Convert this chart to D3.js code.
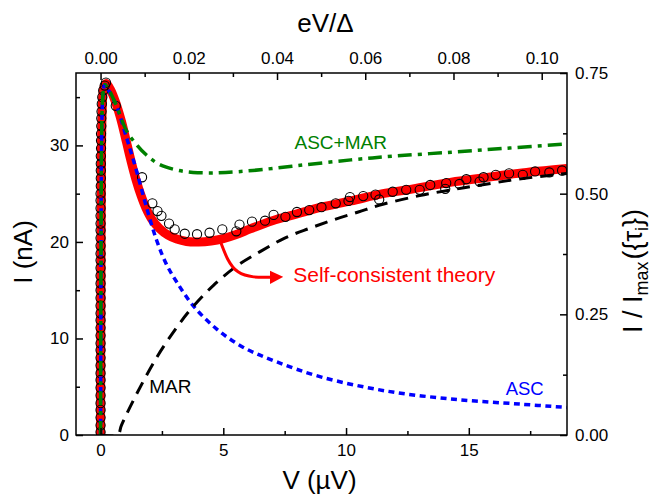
<!DOCTYPE html>
<html lang="en">
<head>
<meta charset="utf-8">
<title>I-V curve</title>
<script src="https://cdn.jsdelivr.net/npm/d3@7"></script>
<style>
	body { margin: 0; background: #fff; }
	text { font-family: "Liberation Sans", Arial, sans-serif; }
	.axis path, .axis line { stroke: #000; stroke-width: 1.5; }
</style>
</head>
<body>
<script>
// ---- data (V in uV, I in nA) ----
var DELTA = 179.7; // uV, gives the eV/Delta top axis

// self-consistent theory (red)
var scV = [0, 0.02, 0.04, 0.07, 0.12, 0.22, 0.4, 0.65, 0.85, 1.06, 1.25, 1.45, 1.65, 1.85, 2.1, 2.4, 2.75, 3.1, 3.5, 4.0, 4.5, 5.0, 5.5, 6.1, 7.0, 8.0, 9.0, 10.2, 11.5, 12.5, 14.3, 15.5, 17.0, 19.0];
var scI = [0, 20, 30, 34, 35.8, 36.4, 35.8, 34.2, 32.5, 30.3, 28.3, 26.4, 24.8, 23.5, 22.3, 21.4, 20.7, 20.3, 20.05, 20.0, 20.1, 20.35, 20.75, 21.35, 22.2, 22.9, 23.6, 24.25, 25.0, 25.4, 26.2, 26.6, 27.1, 27.6];

// ASC (blue dotted)
var ascV = [0, 0.02, 0.04, 0.07, 0.12, 0.18, 0.35, 0.65, 1.06, 1.46, 1.87, 2.28, 2.68, 3.09, 3.77, 4.72, 5.8, 7.15, 9.0, 11.65, 14.4, 17.1, 19.0];
var ascI = [0, 20, 30, 34, 35.8, 36.3, 35.6, 34.1, 30.8, 27.4, 23.6, 20.2, 17.7, 15.9, 13.4, 11.0, 9.1, 7.6, 6.0, 4.55, 3.7, 3.2, 2.85];

// ASC+MAR (green dash-dot)
var sumV = [0, 0.02, 0.04, 0.07, 0.12, 0.18, 0.35, 0.65, 1.06, 1.46, 1.87, 2.28, 2.68, 3.2, 3.77, 4.4, 5.1, 6.2, 8, 10.2, 12, 14.3, 16.5, 19.0];
var sumI = [0, 20, 30, 34, 35.8, 36.3, 35.7, 34.1, 31.5, 30.1, 29.0, 28.2, 27.75, 27.4, 27.2, 27.15, 27.2, 27.4, 27.9, 28.5, 28.9, 29.3, 29.7, 30.15];

// MAR (black dashed)
var marV = [0, 0.7, 0.85, 1.46, 2.28, 3.09, 3.7, 4.6, 5.6, 6.5, 7.5, 8.5, 9.5, 10.5, 11.5, 13, 14.3, 15.5, 17.0, 19.0];
var marI = [0, 0, 1.0, 4.2, 8.0, 11.1, 13.1, 15.5, 17.6, 19.0, 20.4, 21.4, 22.3, 23.1, 23.9, 24.8, 25.4, 25.9, 26.5, 27.1];

// measured points (open circles)
var expV = [0, 0, 0, 0, 0, 0, 0, 0, 0, 0, 0, 0, 0, 0, 0, 0, 0, 0, 0, 0, 0, 0, 0, 0, 0, 0, 0, 0, 0, 0, 0, 0, 0, 0.01, 0.01, 0.01, 0.01, 0.01, 0.02, 0.02, 0.02, 0.03, 0.03, 0.04, 0.05, 0.07, 0.11, 0.17, 0.22,
	0.62, 1.69, 2.11, 2.32, 2.48, 2.79, 3.02, 3.43, 3.93, 4.44, 4.96, 5.53, 5.66, 6.17, 6.7, 7.05, 7.53, 8.0, 8.5, 9.0, 9.58, 10.1, 10.16, 10.7, 11.2, 11.35, 11.9, 12.45, 13.0, 13.43, 14.04, 14.08, 14.62, 14.9, 15.44, 15.6, 16.1, 16.64, 17.2, 17.7, 18.28, 18.8];
var expI = [0.3, 1.0, 1.8, 2.6, 3.3, 4.1, 4.9, 5.7, 6.4, 7.2, 8.0, 8.8, 9.5, 10.3, 11.1, 11.9, 12.6, 13.4, 14.2, 15.0, 15.7, 16.5, 17.3, 18.1, 18.8, 19.6, 20.4, 21.2, 21.9, 22.7, 23.5, 24.3, 25.0, 25.8, 26.6, 27.4, 28.1, 28.9, 29.7, 30.5, 31.2, 32.0, 32.8, 33.5, 34.3, 35.0, 35.7, 36.2, 36.5,
	34.1, 26.7, 24.0, 23.2, 22.7, 21.9, 21.3, 20.85, 20.8, 20.95, 21.3, 21.1, 21.8, 22.1, 22.2, 22.8, 22.6, 23.1, 23.3, 23.6, 24.0, 24.25, 24.65, 24.75, 24.9, 24.4, 25.2, 25.4, 25.4, 25.9, 25.5, 26.1, 26.0, 26.5, 26.25, 26.7, 26.95, 27.1, 26.95, 27.3, 27.2, 27.4];

// axis ticks
var vTicks = [0, 5, 10, 15];
var vMinor = [2.5, 7.5, 12.5, 17.5];
var iTicks = [0, 10, 20, 30];
var iMinor = [5, 15, 25, 35];
var eTicks = [0, 0.02, 0.04, 0.06, 0.08, 0.10];
var eMinor = [0.01, 0.03, 0.05, 0.07, 0.09];
var rTicks = [0, 0.25, 0.5, 0.75];
var rMinor = [0.125, 0.375, 0.625];

// arrow pointing at the red curve
var arrowV = [4.88, 5.6, 7.0];
var arrowI = [20.06, 16.9, 16.35];

function zip(a, b) { return a.map(function(d, i) { return [d, b[i]]; }); }

var w = 652, h = 497;
var pL = 76, pR = 567, pT = 73, pB = 435;

var x = d3.scaleLinear().domain([-1, 19]).range([pL, pR]);
var y = d3.scaleLinear().domain([0, 37.5]).range([pB, pT]);
var xTop = d3.scaleLinear().domain([-1 / DELTA, 19 / DELTA]).range([pL, pR]);
var yRight = d3.scaleLinear().domain([0, 0.75]).range([pB, pT]);

var svg = d3.select("body").append("svg")
	.attr("width", w)
	.attr("height", h);

svg.append("clipPath").attr("id", "plot")
	.append("rect")
	.attr("x", pL).attr("y", pT)
	.attr("width", pR - pL).attr("height", pB - pT);

var line = d3.line()
	.x(function(d) { return x(d[0]); })
	.y(function(d) { return y(d[1]); })
	.curve(d3.curveCatmullRom.alpha(0.5));

var g = svg.append("g").attr("clip-path", "url(#plot)");

// red theory
g.append("path")
	.datum(zip(scV, scI))
	.attr("d", line)
	.attr("fill", "none")
	.attr("stroke", "#ff0000")
	.attr("stroke-width", 9);

// circles
g.selectAll("circle")
	.data(zip(expV, expI))
	.enter()
	.append("circle")
	.attr("cx", function(d) { return x(d[0]); })
	.attr("cy", function(d) { return y(d[1]); })
	.attr("r", 4.6)
	.attr("fill", "none")
	.attr("stroke", "#000")
	.attr("stroke-width", 1.1);

// ASC
g.append("path")
	.datum(zip(ascV, ascI))
	.attr("d", line)
	.attr("fill", "none")
	.attr("stroke", "#0000ff")
	.attr("stroke-width", 3.5)
	.attr("stroke-dasharray", "6,4.5");

// ASC+MAR
g.append("path")
	.datum(zip(sumV, sumI))
	.attr("d", line)
	.attr("fill", "none")
	.attr("stroke", "#008000")
	.attr("stroke-width", 3.5)
	.attr("stroke-dasharray", "14,6,4,6");

// MAR
g.append("path")
	.datum(zip(marV, marI))
	.attr("d", line)
	.attr("fill", "none")
	.attr("stroke", "#000")
	.attr("stroke-width", 3)
	.attr("stroke-dasharray", "13,8");

// arrow
svg.append("defs").append("marker")
	.attr("id", "head")
	.attr("viewBox", "0 0 10 10")
	.attr("refX", 2).attr("refY", 5)
	.attr("markerWidth", 4.5).attr("markerHeight", 4.5)
	.attr("orient", "auto")
	.append("path")
	.attr("d", "M0,0 L10,5 L0,10 z")
	.attr("fill", "#ff0000");

svg.append("path")
	.datum(zip(arrowV, arrowI))
	.attr("d", d3.line()
		.x(function(d) { return x(d[0]); })
		.y(function(d) { return y(d[1]); })
		.curve(d3.curveNatural))
	.attr("fill", "none")
	.attr("stroke", "#ff0000")
	.attr("stroke-width", 3)
	.attr("marker-end", "url(#head)");

// labels in the plot
svg.append("text").text("ASC+MAR")
	.attr("x", x(7.9)).attr("y", y(29.6))
	.attr("font-size", 19).attr("fill", "#008000");
svg.append("text").text("MAR")
	.attr("x", x(1.98)).attr("y", y(4.3))
	.attr("font-size", 19).attr("fill", "#000");
svg.append("text").text("ASC")
	.attr("x", x(16.5)).attr("y", y(4.1))
	.attr("font-size", 18.5).attr("fill", "#0000ff");
svg.append("text").text("Self-consistent theory")
	.attr("x", x(7.85)).attr("y", y(15.9))
	.attr("font-size", 21).attr("fill", "#ff0000");

// frame
svg.append("rect")
	.attr("x", pL).attr("y", pT)
	.attr("width", pR - pL).attr("height", pB - pT)
	.attr("fill", "none").attr("stroke", "#000").attr("stroke-width", 1.5);

// axes, ticks point inward
function addAxis(axis, tr, fs) {
	var a = svg.append("g").attr("class", "axis")
		.attr("transform", tr)
		.call(axis);
	a.select(".domain").remove();
	a.selectAll("text").attr("font-size", fs).attr("fill", "#000")
		.style("font-family", '"Liberation Sans", Arial, sans-serif');
	return a;
}

addAxis(d3.axisBottom(x).tickValues(vTicks).tickSize(-7).tickPadding(9).tickFormat(d3.format("d")), "translate(0," + pB + ")", 17);
addAxis(d3.axisBottom(x).tickValues(vMinor).tickSize(-4).tickFormat(""), "translate(0," + pB + ")", 17);
addAxis(d3.axisLeft(y).tickValues(iTicks).tickSize(-7).tickPadding(7).tickFormat(d3.format("d")), "translate(" + pL + ",0)", 17);
addAxis(d3.axisLeft(y).tickValues(iMinor).tickSize(-4).tickFormat(""), "translate(" + pL + ",0)", 17);
addAxis(d3.axisTop(xTop).tickValues(eTicks).tickSize(-7).tickPadding(9).tickFormat(d3.format(".2f")), "translate(0," + pT + ")", 17);
addAxis(d3.axisTop(xTop).tickValues(eMinor).tickSize(-4).tickFormat(""), "translate(0," + pT + ")", 17);
addAxis(d3.axisRight(yRight).tickValues(rTicks).tickSize(-7).tickPadding(8).tickFormat(d3.format(".2f")), "translate(" + pR + ",0)", 17);
addAxis(d3.axisRight(yRight).tickValues(rMinor).tickSize(-4).tickFormat(""), "translate(" + pR + ",0)", 17);

// axis titles
svg.append("text").text("V (\u00b5V)")
	.attr("x", (pL + pR) / 2 - 2).attr("y", 489)
	.attr("text-anchor", "middle").attr("font-size", 26);
svg.append("text").text("eV/\u0394")
	.attr("x", (pL + pR) / 2 + 4).attr("y", 32)
	.attr("text-anchor", "middle").attr("font-size", 26);
svg.append("text").text("I (nA)")
	.attr("transform", "translate(32," + ((pT + pB) / 2 - 2) + ") rotate(-90)")
	.attr("text-anchor", "middle").attr("font-size", 26);

var rt = svg.append("text")
	.attr("transform", "translate(642,271) rotate(-90)")
	.attr("text-anchor", "middle").attr("font-size", 27);
rt.append("tspan").text("I / I");
rt.append("tspan").text("max").attr("font-size", 18).attr("dy", 6);
rt.append("tspan").text("({\u03c4").attr("dy", -6).attr("dx", 2);
rt.append("tspan").text("i").attr("font-size", 18).attr("dy", 6);
rt.append("tspan").text("})").attr("dy", -6);
</script>
</body>
</html>
